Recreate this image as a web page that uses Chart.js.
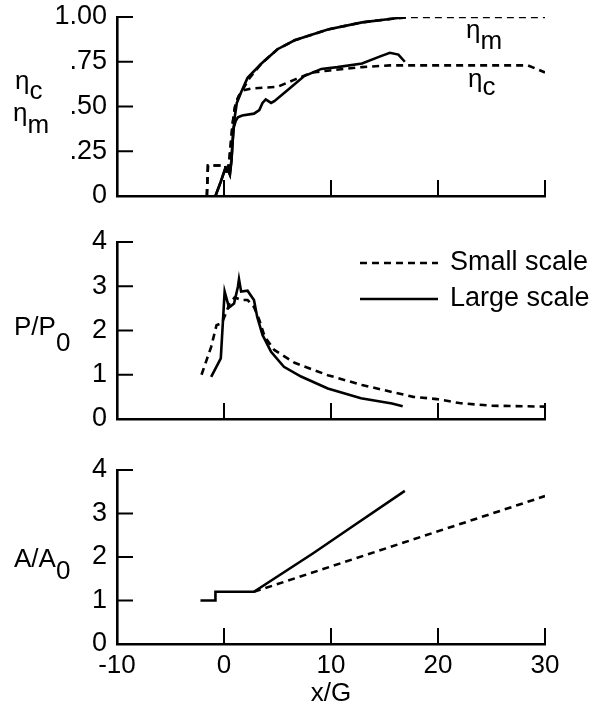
<!DOCTYPE html>
<html>
<head>
<meta charset="utf-8">
<script src="https://cdn.jsdelivr.net/npm/chart.js@4.4.0/dist/chart.umd.min.js"></script>
<style>
  html, body { margin: 0; padding: 0; background: #fff; }
  #wrap { position: relative; width: 602px; height: 709px; overflow: hidden; font-family: 'Liberation Sans', Arial, sans-serif; }
  #wrap canvas { position: absolute; left: 0; top: 0; }
  .lbl { position: absolute; font-size: 26px; line-height: 1; color: #000; white-space: nowrap; }
  .lbl span { position: relative; }
</style>
</head>
<body>
<div id="wrap">
  <canvas id="etaChart" width="602" height="709"></canvas>
  <canvas id="pressureChart" width="602" height="709"></canvas>
  <canvas id="areaChart" width="602" height="709"></canvas>

  <div class="lbl" style="left:15px;top:67px">η<span style="top:10px">c</span></div>
  <div class="lbl" style="left:13px;top:99px">η<span style="top:12px">m</span></div>
  <div class="lbl" style="left:14px;top:313px">P/P<span style="top:16px">0</span></div>
  <div class="lbl" style="left:14px;top:545px">A/A<span style="top:12px">0</span></div>
  <div class="lbl" style="left:466px;top:16px">η<span style="top:11px">m</span></div>
  <div class="lbl" style="left:468px;top:65px">η<span style="top:8px">c</span></div>
</div>

<script>
// --- shared axis values ---
const xTickLabels = ['-10', '0', '10', '20', '30'];
const etaTickLabels = ['0', '.25', '.50', '.75', '1.00'];
const ratioTickLabels = ['0', '1', '2', '3', '4'];
const seriesLabels = ['Small scale', 'Large scale'];

// --- efficiency panel (eta_m, eta_c) ---
const etaMSmallX = [-1.6, -1.5, 0.1, 0.3, 0.5, 0.65, 0.8, 0.95, 1.1, 1.4, 1.8, 2.4, 3.5, 5.0, 6.6, 9.7, 12.9, 15.7, 17.5, 30];
const etaMSmallY = [0.0, 0.17, 0.17, 0.12, 0.2, 0.3, 0.4, 0.47, 0.52, 0.56, 0.6, 0.66, 0.74, 0.82, 0.87, 0.93, 0.97, 0.99, 1.0, 1.0];
const etaMLargeX = [-0.8, -0.3, 0.1, 0.35, 0.55, 0.7, 0.8, 0.9, 1.0, 1.2, 1.6, 2.2, 3.5, 5.0, 6.6, 9.7, 12.9, 15.7, 17.0];
const etaMLargeY = [0.0, 0.08, 0.15, 0.15, 0.12, 0.2, 0.3, 0.38, 0.44, 0.52, 0.58, 0.66, 0.74, 0.82, 0.87, 0.93, 0.97, 0.99, 1.0];
const etaCSmallX = [-1.6, -1.5, 0.1, 0.3, 0.5, 0.65, 0.8, 0.95, 1.1, 1.4, 1.8, 2.5, 5.0, 6.6, 8.2, 9.7, 12.9, 15.5, 28.4, 30];
const etaCSmallY = [0.0, 0.17, 0.17, 0.12, 0.2, 0.3, 0.4, 0.47, 0.52, 0.56, 0.59, 0.6, 0.61, 0.65, 0.69, 0.7, 0.72, 0.73, 0.73, 0.69];
const etaCLargeX = [-0.8, -0.3, 0.1, 0.35, 0.55, 0.7, 0.8, 0.9, 1.1, 1.3, 1.7, 2.8, 3.3, 3.6, 3.9, 4.4, 4.7, 5.9, 7.5, 9.1, 10.6, 12.9, 14.6, 15.5, 16.3, 16.9];
const etaCLargeY = [0.0, 0.08, 0.15, 0.15, 0.12, 0.2, 0.3, 0.38, 0.42, 0.44, 0.45, 0.46, 0.48, 0.52, 0.54, 0.52, 0.53, 0.59, 0.67, 0.71, 0.72, 0.74, 0.78, 0.80, 0.79, 0.75];

// --- pressure panel (P/P0) ---
const pSmallX = [-2.1, -1.2, -0.7, -0.2, 0.2, 0.5, 1.0, 1.6, 2.2, 2.8, 3.3, 3.8, 4.7, 6.6, 9.7, 12.9, 15.7, 17.7, 19.9, 22, 25, 30];
const pSmallY = [1.0, 1.63, 2.12, 2.17, 2.4, 2.6, 2.75, 2.69, 2.69, 2.53, 2.24, 1.86, 1.56, 1.27, 0.99, 0.77, 0.61, 0.5, 0.45, 0.36, 0.3, 0.28];
const pLargeX = [-1.2, -0.3, 0.06, 0.47, 0.94, 1.3, 1.4, 1.6, 2.2, 2.8, 3.1, 3.6, 4.4, 5.6, 7.2, 9.7, 12.8, 15.7, 16.7];
const pLargeY = [0.95, 1.37, 2.88, 2.52, 2.61, 2.99, 3.16, 2.88, 2.9, 2.69, 2.31, 1.9, 1.52, 1.18, 0.96, 0.69, 0.47, 0.35, 0.29];

// --- area panel (A/A0) ---
const aSmallX = [2.8, 30];
const aSmallY = [1.2, 3.4];
const aLargeX = [-2.2, -0.8, -0.8, 2.8, 8.3, 12.0, 16.9];
const aLargeY = [1.0, 1.0, 1.2, 1.2, 2.08, 2.7, 3.52];

Chart.defaults.font.family = "'Liberation Sans', Arial, sans-serif";
Chart.defaults.font.size = 27;
Chart.defaults.color = '#000';

function toPoints(xs, ys) {
    return xs.map((x, i) => ({ x: x, y: ys[i] }));
}

function solidSet(label, xs, ys) {
    return { label: label, data: toPoints(xs, ys), borderColor: '#000', borderWidth: 2.6, pointRadius: 0, tension: 0, fill: false };
}

function dashedSet(label, xs, ys) {
    return { label: label, data: toPoints(xs, ys), borderColor: '#000', borderWidth: 2.6, borderDash: [7, 5], pointRadius: 0, tension: 0, fill: false };
}

// ticks point into the plot, like the original figure
const inwardTicks = {
    id: 'inwardTicks',
    afterDraw(chart) {
        const { ctx, chartArea, scales } = chart;
        ctx.save();
        ctx.strokeStyle = '#000';
        ctx.lineWidth = 2;
        ctx.beginPath();
        scales.y.ticks.forEach(t => {
            if (t.value === scales.y.min) return;
            const py = scales.y.getPixelForValue(t.value);
            ctx.moveTo(chartArea.left, py);
            ctx.lineTo(chartArea.left + 16, py);
        });
        scales.x.ticks.forEach(t => {
            if (t.value === scales.x.min) return;
            const px = scales.x.getPixelForValue(t.value);
            ctx.moveTo(px, chartArea.bottom);
            ctx.lineTo(px, chartArea.bottom - 16);
        });
        ctx.stroke();
        ctx.restore();
    }
};

// small legend drawn inside the pressure panel
const lineLegend = {
    id: 'lineLegend',
    afterDraw(chart, args, opts) {
        if (!opts.items) return;
        const ctx = chart.ctx;
        ctx.save();
        opts.items.forEach((idx, row) => {
            const ds = chart.data.datasets[idx];
            const y = opts.y + row * opts.rowGap;
            ctx.strokeStyle = ds.borderColor;
            ctx.lineWidth = ds.borderWidth;
            ctx.setLineDash(ds.borderDash || []);
            ctx.beginPath();
            ctx.moveTo(opts.x, y);
            ctx.lineTo(opts.x + opts.lineLen, y);
            ctx.stroke();
            ctx.setLineDash([]);
            ctx.fillStyle = '#000';
            ctx.font = "27px 'Liberation Sans', Arial, sans-serif";
            ctx.textBaseline = 'middle';
            ctx.fillText(ds.label, opts.x + opts.lineLen + 12, y);
        });
        ctx.restore();
    }
};

// shift moves the canvas up so a panel near the page top keeps room for its top label
function makePanel(id, datasets, yMax, yStep, yLabels, top, bottom, showX, shift, extra) {
    const xHeight = showX ? 65 : 0;
    const canvas = document.getElementById(id);
    canvas.style.top = (-shift) + 'px';
    return new Chart(canvas, {
        type: 'line',
        data: { datasets: datasets },
        options: {
            responsive: false,
            animation: false,
            events: [],
            layout: { padding: { left: 0, right: 57, top: top + shift, bottom: 709 - bottom - shift - xHeight } },
            scales: {
                x: {
                    type: 'linear',
                    min: -10,
                    max: 30,
                    afterFit: (scale) => { scale.height = xHeight; },
                    ticks: {
                        display: showX,
                        stepSize: 10,
                        padding: 6,
                        maxRotation: 0,
                        font: { size: 26 },
                        callback: (value, index) => xTickLabels[index]
                    },
                    grid: { drawOnChartArea: false, drawTicks: false },
                    border: { display: true, color: '#000', width: 2.6 },
                    title: { display: showX, text: 'x/G', font: { size: 26 }, padding: { top: 0, bottom: 0 } }
                },
                y: {
                    min: 0,
                    max: yMax,
                    afterFit: (scale) => { scale.width = 117; },
                    ticks: {
                        stepSize: yStep,
                        padding: 10,
                        callback: (value, index) => yLabels[index]
                    },
                    grid: { drawOnChartArea: false, drawTicks: false },
                    border: { display: true, color: '#000', width: 2.6 }
                }
            },
            plugins: Object.assign({ legend: { display: false }, tooltip: { enabled: false } }, extra || {})
        },
        plugins: [inwardTicks, lineLegend]
    });
}

document.addEventListener('DOMContentLoaded', function () {

    // --- Efficiency panel ---
    makePanel('etaChart', [
        solidSet('eta_m ' + seriesLabels[1], etaMLargeX, etaMLargeY),
        solidSet('eta_c ' + seriesLabels[1], etaCLargeX, etaCLargeY),
        dashedSet('eta_m ' + seriesLabels[0], etaMSmallX, etaMSmallY),
        dashedSet('eta_c ' + seriesLabels[0], etaCSmallX, etaCSmallY)
    ], 1, 0.25, etaTickLabels, 17, 196, false, 14);

    // --- Pressure panel ---
    makePanel('pressureChart', [
        solidSet(seriesLabels[1], pLargeX, pLargeY),
        dashedSet(seriesLabels[0], pSmallX, pSmallY)
    ], 4, 1, ratioTickLabels, 242, 419, false, 0,
    { lineLegend: { items: [1, 0], x: 360, y: 263, rowGap: 36, lineLen: 78 } });

    // --- Area panel ---
    makePanel('areaChart', [
        solidSet(seriesLabels[1], aLargeX, aLargeY),
        dashedSet(seriesLabels[0], aSmallX, aSmallY)
    ], 4, 1, ratioTickLabels, 470, 644, true, 0);
});
</script>
</body>
</html>
